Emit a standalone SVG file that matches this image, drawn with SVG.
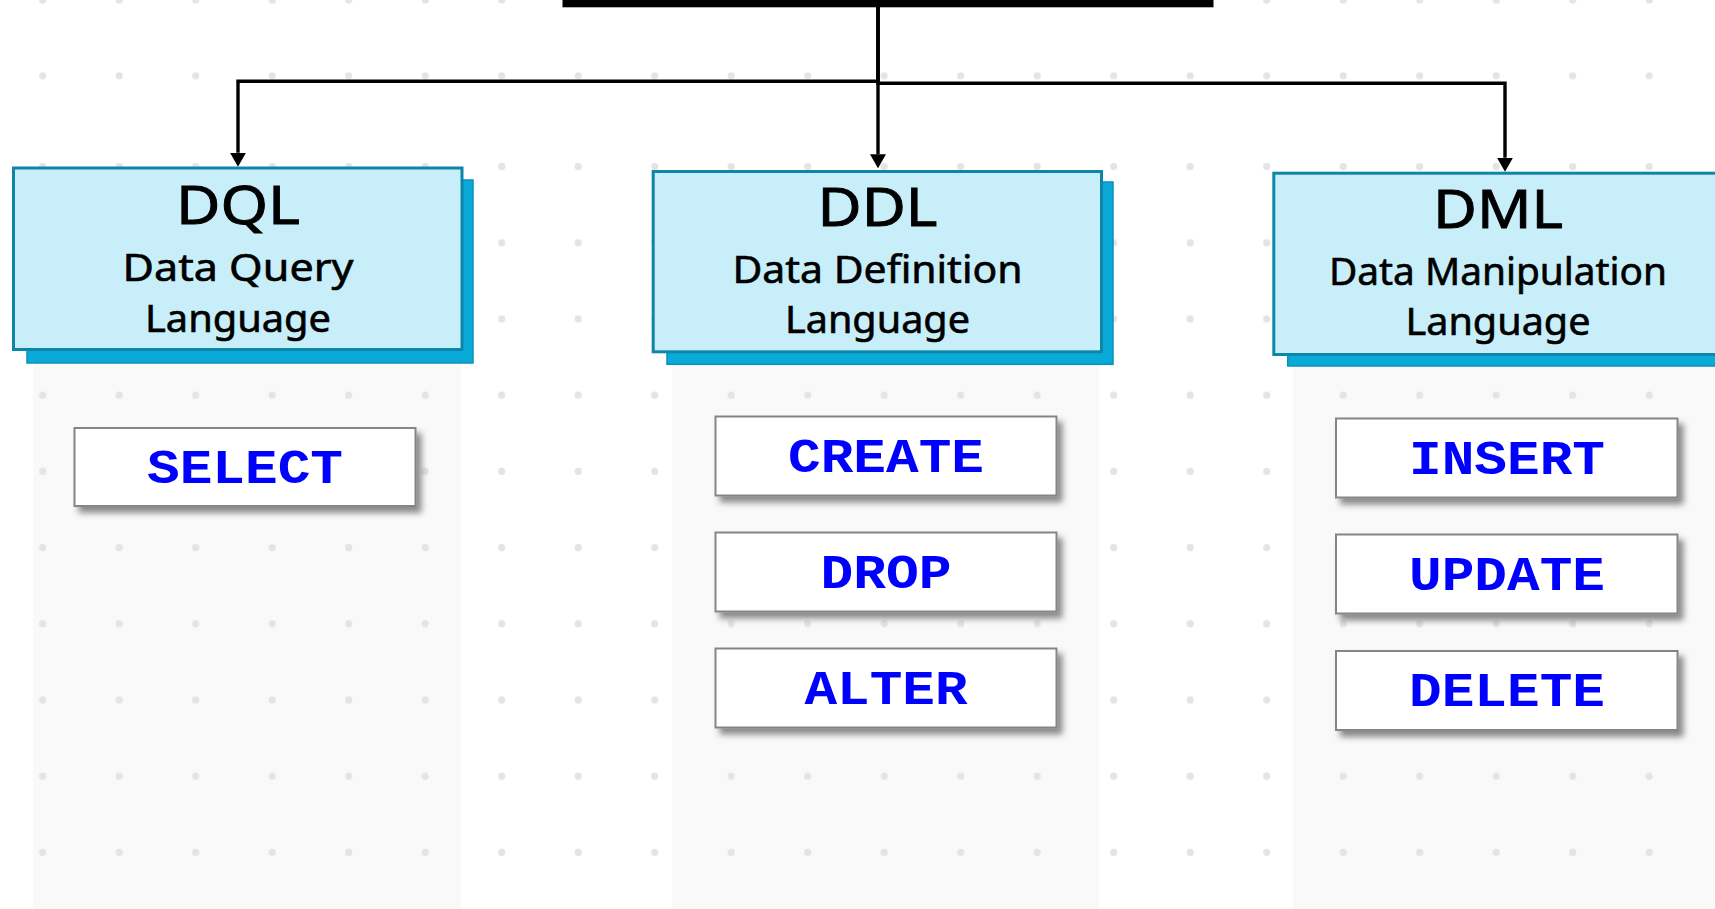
<svg xmlns="http://www.w3.org/2000/svg" width="1715" height="909" viewBox="0 0 1715 909">
  <style>
    .col { fill: #f9f9f9; }
    .hdr { fill: #c8eff9; stroke: #0e86a8; stroke-width: 3; }
    .hdr-shadow { fill: #0aaad8; stroke: #0b90ba; stroke-width: 1.5; }
    .title { font-family: "Noto Sans", "DejaVu Sans", sans-serif; font-size: 52px; fill: #000; stroke: #000; stroke-width: 0.9; text-anchor: middle; }
    .sub { font-family: "Noto Sans", "DejaVu Sans", sans-serif; font-size: 38px; fill: #000; stroke: #000; stroke-width: 0.6; text-anchor: middle; }
    .cmd { fill: #ffffff; stroke: #858585; stroke-width: 2; filter: url(#btnShadow); }
    .cmd-text { font-family: "Liberation Mono", "Courier New", monospace; font-weight: bold; font-size: 48px; fill: #0000ff; text-anchor: middle; }
    .link { fill: none; stroke: #000; stroke-width: 3.4; }
  </style>
  <defs>
    <pattern id="dotsTop" patternUnits="userSpaceOnUse" x="4.45" y="-37.85" width="76.5" height="75.7">
      <circle cx="38.25" cy="37.85" r="3.6" fill="#e4e4e4"/>
    </pattern>
    <pattern id="dotsMain" patternUnits="userSpaceOnUse" x="4.45" y="128.5" width="76.5" height="76.2">
      <circle cx="38.25" cy="38.1" r="3.6" fill="#e4e4e4"/>
    </pattern>
    <filter id="btnShadow" x="-10%" y="-20%" width="130%" height="160%">
      <feDropShadow dx="5" dy="6" stdDeviation="3" flood-color="#000" flood-opacity="0.45"/>
    </filter>
    <marker id="arrow" markerUnits="userSpaceOnUse" viewBox="0 0 14 16" refX="0" refY="8" markerWidth="14" markerHeight="16" orient="auto">
      <path d="M0,0 L14,8 L0,16 Z" fill="#000"/>
    </marker>
  </defs>

  <!-- page background -->
  <rect x="0" y="0" width="1715" height="909" fill="#ffffff"/>

  <!-- column panels under each category -->
  <rect class="col" x="33" y="355" width="428" height="560"/>
  <rect class="col" x="672" y="355" width="427" height="560"/>
  <rect class="col" x="1293" y="355" width="430" height="560"/>

  <!-- dot grid -->
  <rect x="0" y="-37.85" width="1715" height="151.4" fill="url(#dotsTop)"/>
  <rect x="0" y="128.5" width="1715" height="781" fill="url(#dotsMain)"/>

  <!-- connectors -->
  <g id="connectors">
    <path class="link" d="M878,7 V81.2 H238 V152.7" marker-end="url(#arrow)"/>
    <path class="link" d="M878,7 V154.3" marker-end="url(#arrow)"/>
    <path class="link" d="M878,7 V83.3 H1505 V157.7" marker-end="url(#arrow)"/>
  </g>

  <!-- root node (lower edge visible) -->
  <g id="root">
    <rect x="562.5" y="-6" width="651" height="13.3" fill="#000"/>
  </g>

  <!-- DQL -->
  <g id="dql">
    <rect class="hdr-shadow" x="27" y="180" width="446" height="183"/>
    <rect class="hdr" x="13.5" y="168" width="448.5" height="181.5"/>
    <text class="title" x="238" y="224" textLength="124" lengthAdjust="spacingAndGlyphs">DQL</text>
    <text class="sub" x="238" y="281" textLength="231" lengthAdjust="spacingAndGlyphs">Data Query</text>
    <text class="sub" x="238" y="331.7" textLength="186" lengthAdjust="spacingAndGlyphs">Language</text>
  </g>

  <!-- DDL -->
  <g id="ddl">
    <rect class="hdr-shadow" x="667" y="182" width="446" height="182.3"/>
    <rect class="hdr" x="653.2" y="171.5" width="448.3" height="180.3"/>
    <text class="title" x="877.5" y="226" textLength="120" lengthAdjust="spacingAndGlyphs">DDL</text>
    <text class="sub" x="877.5" y="283.3" textLength="290" lengthAdjust="spacingAndGlyphs">Data Definition</text>
    <text class="sub" x="877.5" y="333.3" textLength="185" lengthAdjust="spacingAndGlyphs">Language</text>
  </g>

  <!-- DML -->
  <g id="dml">
    <rect class="hdr-shadow" x="1287.7" y="184" width="446" height="182"/>
    <rect class="hdr" x="1273.8" y="173.2" width="449" height="181.3"/>
    <text class="title" x="1498" y="227.7" textLength="130" lengthAdjust="spacingAndGlyphs">DML</text>
    <text class="sub" x="1498" y="285" textLength="338" lengthAdjust="spacingAndGlyphs">Data Manipulation</text>
    <text class="sub" x="1498" y="335" textLength="185" lengthAdjust="spacingAndGlyphs">Language</text>
  </g>

  <!-- DQL commands -->
  <g id="cmd-select">
    <rect class="cmd" x="74.5" y="428" width="341" height="78"/>
    <text class="cmd-text" x="245" y="483" textLength="196" lengthAdjust="spacingAndGlyphs">SELECT</text>
  </g>

  <!-- DDL commands -->
  <g id="cmd-create">
    <rect class="cmd" x="715.5" y="416.5" width="341" height="79"/>
    <text class="cmd-text" x="886" y="472" textLength="196" lengthAdjust="spacingAndGlyphs">CREATE</text>
  </g>
  <g id="cmd-drop">
    <rect class="cmd" x="715.5" y="532.5" width="341" height="79"/>
    <text class="cmd-text" x="886" y="588" textLength="131" lengthAdjust="spacingAndGlyphs">DROP</text>
  </g>
  <g id="cmd-alter">
    <rect class="cmd" x="715.5" y="648.5" width="341" height="79"/>
    <text class="cmd-text" x="886" y="704" textLength="163" lengthAdjust="spacingAndGlyphs">ALTER</text>
  </g>

  <!-- DML commands -->
  <g id="cmd-insert">
    <rect class="cmd" x="1336" y="418.5" width="341.5" height="79"/>
    <text class="cmd-text" x="1507" y="474" textLength="196" lengthAdjust="spacingAndGlyphs">INSERT</text>
  </g>
  <g id="cmd-update">
    <rect class="cmd" x="1336" y="534.5" width="341.5" height="79"/>
    <text class="cmd-text" x="1507" y="590" textLength="196" lengthAdjust="spacingAndGlyphs">UPDATE</text>
  </g>
  <g id="cmd-delete">
    <rect class="cmd" x="1336" y="651" width="341.5" height="79"/>
    <text class="cmd-text" x="1507" y="706.3" textLength="196" lengthAdjust="spacingAndGlyphs">DELETE</text>
  </g>
</svg>
